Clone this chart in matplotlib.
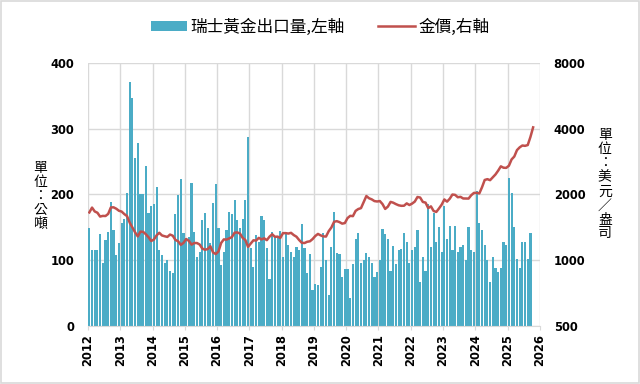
import numpy as np
import matplotlib
matplotlib.use("Agg")
import matplotlib.pyplot as plt
from matplotlib.patches import Rectangle
from matplotlib.ticker import FixedLocator, NullLocator

plt.rcParams['font.family'] = ['Noto Sans CJK TC', 'DejaVu Sans']

# Swiss gold exports (tonnes), monthly from Jan 2012 to Sep 2025
exports = [
    149, 115, 115, 116, 140, 96, 131, 143, 189, 146, 108, 127,   # 2012
    156, 162, 202, 371, 346, 256, 278, 201, 201, 244, 172, 182,  # 2013
    186, 211, 116, 108, 96, 100, 83, 80, 170, 199, 223, 141,     # 2014
    134, 135, 217, 143, 105, 112, 161, 172, 149, 127, 187, 216,  # 2015
    149, 93, 113, 146, 174, 170, 192, 161, 149, 163, 191, 288,   # 2016
    118, 89, 138, 128, 168, 161, 118, 71, 143, 137, 137, 145,    # 2017
    105, 143, 123, 113, 105, 120, 116, 155, 118, 80, 110, 55,    # 2018
    64, 62, 89, 142, 101, 47, 120, 173, 111, 110, 74, 86,        # 2019
    86, 42, 95, 133, 141, 96, 101, 111, 105, 96, 75, 82,         # 2020
    101, 147, 140, 133, 84, 122, 94, 116, 117, 142, 128, 96,     # 2021
    115, 120, 146, 67, 105, 84, 186, 120, 172, 128, 150, 113,    # 2022
    182, 133, 152, 116, 152, 113, 120, 123, 100, 150, 115, 112,  # 2023
    206, 157, 146, 123, 101, 67, 105, 88, 82, 88, 128, 123,      # 2024
    225, 202, 150, 102, 88, 128, 128, 102, 142,                  # 2025
]

# gold price (USD/oz), monthly from Jan 2012 to Oct 2025
gold = [
    1656, 1742, 1673, 1650, 1585, 1596, 1594, 1630, 1745, 1747, 1722, 1685,
    1671, 1627, 1593, 1487, 1414, 1343, 1286, 1352, 1349, 1316, 1275, 1225,
    1244, 1300, 1336, 1299, 1288, 1279, 1311, 1296, 1239, 1222, 1176, 1201,
    1251, 1227, 1179, 1199, 1199, 1181, 1131, 1117, 1125, 1159, 1086, 1068,
    1097, 1200, 1246, 1243, 1260, 1276, 1337, 1341, 1326, 1266, 1238, 1152,
    1192, 1234, 1231, 1266, 1246, 1260, 1236, 1283, 1315, 1280, 1283, 1265,
    1331, 1331, 1325, 1335, 1304, 1282, 1238, 1202, 1199, 1215, 1221, 1250,
    1291, 1320, 1300, 1286, 1284, 1359, 1413, 1500, 1510, 1495, 1471, 1480,
    1560, 1597, 1592, 1683, 1716, 1732, 1847, 1968, 1922, 1900, 1866, 1858,
    1867, 1808, 1718, 1760, 1850, 1834, 1807, 1785, 1775, 1777, 1821, 1790,
    1817, 1856, 1948, 1937, 1849, 1836, 1733, 1765, 1681, 1664, 1726, 1797,
    1898, 1855, 1913, 1999, 1992, 1943, 1951, 1918, 1916, 1916, 1985, 2034,
    2034, 2023, 2159, 2331, 2351, 2326, 2398, 2470, 2571, 2691, 2652, 2648,
    2709, 2895, 2984, 3193, 3287, 3352, 3340, 3368, 3667, 4058,
]

years = list(range(2012, 2027))
left_ticks = [0, 100, 200, 300, 400]
right_ticks = [500, 1000, 2000, 4000, 8000]

bar_color = '#4BACC6'
line_color = '#C0504D'
grid_color = '#D9D9D9'

x_bar = 2012 + (np.arange(len(exports)) + 0.5) / 12
x_gold = 2012 + (np.arange(len(gold)) + 0.5) / 12

fig = plt.figure(figsize=(6.4, 3.84), dpi=100)
ax = fig.add_axes([0.1375, 0.151, 0.706, 0.685])
ax2 = ax.twinx()

bars = ax.bar(x_bar, exports, width=0.8 / 12, color=bar_color, zorder=2,
              label='瑞士黃金出口量,左軸')
line, = ax2.plot(x_gold, gold, color=line_color, lw=1.8, zorder=3,
                 label='金價,右軸')

ax.set_xlim(2012, 2026)
ax.set_ylim(0, 400)
ax2.set_yscale('log', base=2)
ax2.set_ylim(500, 8000)

tick_font = dict(fontsize=8.3, fontweight='bold', family='DejaVu Sans')
ax.set_xticks(years)
ax.set_xticklabels([str(y) for y in years], rotation=90, **tick_font)
ax.set_yticks(left_ticks)
ax.set_yticklabels([str(v) for v in left_ticks], **tick_font)
ax2.yaxis.set_major_locator(FixedLocator(right_ticks))
ax2.yaxis.set_minor_locator(NullLocator())
ax2.set_yticklabels([str(v) for v in right_ticks], **tick_font)

ax.grid(True, color=grid_color, lw=1, zorder=0)
ax.set_axisbelow(True)
ax.tick_params(length=3, color=grid_color, pad=3)
ax.tick_params(axis='y', length=0, pad=10)
ax2.tick_params(length=0, pad=10)
for a in (ax, ax2):
    for s in a.spines.values():
        s.set_visible(False)
ax.spines['bottom'].set_visible(True)
ax.spines['bottom'].set_color(grid_color)

ax2.patch.set_visible(False)
ax.set_zorder(1)
ax2.set_zorder(2)

fig.text(0.063, 0.49, '\n'.join('單位：公噸'), ha='center', va='center',
         fontsize=10, linespacing=1.0)
fig.text(0.945, 0.52, '\n'.join('單位：美元／盎司'), ha='center', va='center',
         fontsize=10, linespacing=1.0)

fig.legend(handles=[bars, line], loc='center', bbox_to_anchor=(0.5, 0.93),
           ncol=2, frameon=False, fontsize=12, handlelength=2.2,
           handleheight=0.55, handletextpad=0.2, columnspacing=2.0)

fig.patches.append(Rectangle((0.002, 0.003), 0.996, 0.994, transform=fig.transFigure,
                             fill=False, edgecolor=grid_color, lw=1.2))

fig.savefig('out.png', dpi=100)
